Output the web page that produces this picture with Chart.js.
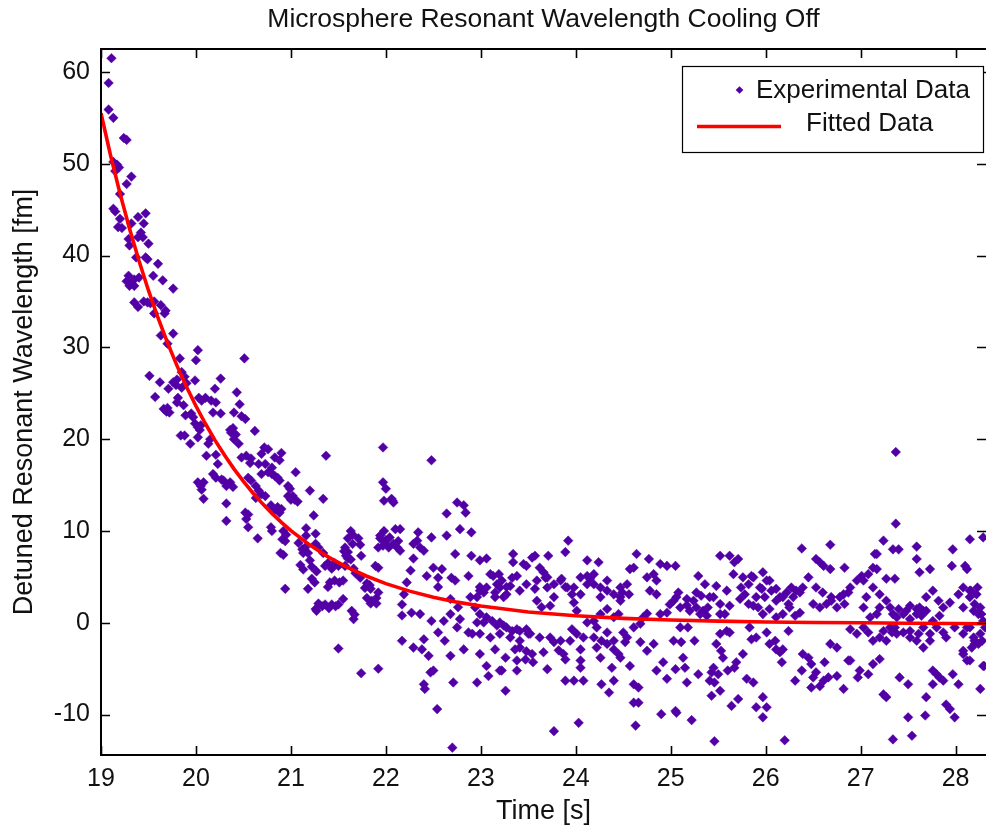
<!DOCTYPE html>
<html><head><meta charset="utf-8">
<script src="https://cdn.jsdelivr.net/npm/chart.js@4.4.0/dist/chart.umd.min.js"></script>
<style>html,body{margin:0;padding:0;background:#fff}#wrap{width:986px;height:830px;overflow:hidden}</style>
</head><body><div id="wrap"><canvas id="c" width="986" height="830"></canvas></div>
<script>
const chartTitle = 'Microsphere Resonant Wavelength Cooling Off';
const xTitle = 'Time [s]';
const yTitle = 'Detuned Resonant Wavelength [fm]';
const xTicks = [19,20,21,22,23,24,25,26,27,28];
const yTicks = [-10,0,10,20,30,40,50,60];
const seriesNames = ['Experimental Data','Fitted Data'];

// Fitted curve
const fitTime  = [19.0,19.1,19.2,19.3,19.4,19.5,19.6,19.7,19.8,19.9,20.0,20.1,20.2,20.3,20.4,20.5,20.6,20.7,20.8,20.9,21.0,21.2,21.4,21.6,21.8,22.0,22.25,22.5,22.75,23.0,23.5,24.0,24.5,25.0,25.5,26.0,26.5,27.0,27.5,28.0,28.33];
const fitValue = [55.5,50.95,46.78,42.95,39.43,36.2,33.23,30.51,28.01,25.72,23.61,21.68,19.9,18.27,16.77,15.4,14.14,12.98,11.92,10.94,10.04,8.46,7.13,6.01,5.07,4.27,3.45,2.79,2.25,1.82,1.18,0.76,0.48,0.3,0.18,0.09,0.03,0.0,-0.05,-0.08,-0.1];

const expEarly = [[19.11,61.5],[19.08,58.8],[19.08,55.9],[19.13,55.0],[19.24,52.8],[19.27,52.6],[19.13,50.2],[19.17,49.9],[19.15,49.2],[19.19,49.6],[19.32,48.6],[19.27,47.8],[19.2,46.7],[19.13,45.1],[19.15,44.8],[19.2,44.0],[19.22,43.0],[19.18,43.1],[19.32,43.5],[19.39,44.2],[19.42,42.5],[19.45,43.5],[19.47,44.6],[19.39,42.0],[19.44,42.0],[19.3,41.1],[19.29,41.8],[19.5,41.3],[19.37,39.8],[19.47,39.8],[19.49,39.6],[19.6,39.1],[19.29,37.8],[19.27,37.2],[19.32,36.9],[19.35,37.4],[19.3,36.7],[19.4,37.6],[19.35,36.7],[19.55,37.8],[19.65,37.3],[19.76,36.4],[19.35,34.9],[19.45,35.0],[19.56,35.0],[19.49,34.9],[19.39,34.4],[19.52,34.8],[19.56,33.7],[19.67,33.7],[19.63,34.6],[19.68,34.0],[19.63,31.3],[19.76,31.5],[19.7,30.4],[20.02,29.7],[20.0,28.6],[19.83,28.8],[19.51,26.9],[19.62,26.2],[19.76,26.2],[19.8,26.5],[19.85,27.3],[19.88,26.8],[19.9,26.1],[19.85,25.6],[19.79,25.9],[19.71,25.5],[19.57,24.6],[19.81,24.5],[19.8,24.0],[19.99,26.4],[19.66,23.3],[19.69,23.0],[19.72,22.9],[19.7,23.4],[19.87,23.7],[19.89,22.6],[19.95,22.8],[19.97,22.4],[19.99,21.7],[20.02,21.3],[20.05,21.5],[19.84,20.4],[19.88,20.4],[19.94,19.5],[20.02,20.2],[20.04,21.0]];

const expMid = [[20.51,28.8],[20.26,26.6],[20.2,25.5],[20.03,24.5],[20.1,24.5],[20.06,24.2],[20.16,24.2],[20.21,24.0],[20.18,22.9],[20.26,22.8],[20.43,25.1],[20.46,23.8],[20.4,22.9],[20.48,22.5],[20.52,22.2],[20.62,20.9],[20.39,21.2],[20.37,20.7],[20.42,20.5],[20.4,20.0],[20.36,21.0],[20.45,19.5],[20.13,19.5],[20.15,20.0],[20.11,18.2],[20.21,18.3],[20.23,17.3],[20.18,16.2],[20.21,15.8],[20.29,15.5],[20.36,15.3],[20.32,14.9],[20.39,14.8],[20.27,15.6],[20.02,15.3],[20.05,14.9],[20.08,15.3],[20.06,14.5],[20.08,13.5],[20.32,13.0],[20.32,11.1],[20.53,11.3],[20.55,10.4],[20.48,18.0],[20.53,18.2],[20.57,17.4],[20.58,17.9],[20.72,19.1],[20.76,18.9],[20.69,18.4],[20.9,18.5],[20.66,17.3],[20.73,17.3],[20.76,16.4],[20.69,16.2],[20.8,16.2],[20.83,16.0],[20.86,15.8],[20.88,15.5],[20.8,16.9],[20.83,18.0],[20.88,17.7],[21.05,16.4],[20.63,14.9],[20.66,14.4],[20.69,14.0],[20.73,13.8],[20.63,13.6],[20.55,15.8],[20.58,15.5],[20.97,14.9],[20.99,14.6],[21.02,13.8],[21.04,13.4],[21.0,13.4],[21.07,13.2],[20.97,13.8],[21.2,14.4],[21.34,13.5],[21.37,18.2],[20.79,12.8],[20.83,12.3],[20.86,12.6],[20.88,12.0],[20.9,12.4],[21.24,11.7],[20.52,12.0],[20.55,11.8],[20.65,9.2],[20.79,10.4],[20.8,10.0],[20.92,10.0],[20.95,9.6],[20.94,8.9],[20.91,9.1],[20.89,7.6],[20.92,7.4],[21.16,10.3],[21.16,9.5],[21.08,8.7],[21.12,8.0],[21.15,8.2],[21.13,7.6],[21.18,7.6],[21.26,9.7],[21.26,8.6],[21.29,8.2],[21.34,7.6],[21.57,8.2],[21.6,7.7],[21.56,7.8],[21.63,10.0],[21.65,9.6],[21.6,9.2],[21.71,9.2],[21.73,8.5],[21.65,8.6],[21.74,7.3],[21.97,19.1],[21.97,15.3],[22.0,14.6],[21.98,13.3],[21.94,9.5],[21.99,8.7],[21.92,8.2],[21.1,6.3],[21.13,5.8],[21.22,6.1],[21.27,5.6],[21.2,6.8],[20.94,3.7],[21.18,3.7],[21.22,4.8],[21.25,4.4],[21.36,6.2],[21.39,6.5],[21.43,5.9],[21.46,6.5],[21.5,6.2],[21.41,4.4],[21.46,4.6],[21.51,4.4],[21.55,4.6],[21.39,3.9],[21.29,2.1],[21.33,1.8],[21.36,2.0],[21.4,1.6],[21.43,2.0],[21.47,1.8],[21.5,2.0],[21.26,1.5],[21.27,1.3],[21.55,2.6],[21.5,-2.8],[21.6,7.0],[21.63,6.9],[21.58,7.3],[21.57,6.2],[21.68,5.4],[21.66,5.9],[21.73,4.9],[21.8,4.3],[21.83,4.1],[21.64,1.3],[21.67,0.9],[21.66,0.4],[21.74,-5.5],[21.8,2.7],[21.85,2.4],[21.9,2.1],[21.84,2.1],[21.78,3.8],[21.84,3.7],[21.92,-5.0],[21.89,6.2],[21.92,6.0],[21.94,9.2],[21.97,8.4],[21.98,10.0],[21.92,3.3],[21.9,2.7]];

const expLate = [[22.48,17.7],[22.06,13.5],[22.08,13.1],[22.07,13.3],[22.0,9.0],[22.04,9.3],[22.08,8.6],[22.12,8.2],[22.15,10.2],[22.03,8.2],[22.13,8.9],[22.15,7.85],[22.1,10.2],[22.34,9.85],[22.33,8.95],[22.36,8.2],[22.4,7.85],[22.29,8.6],[22.48,9.3],[22.64,11.9],[22.75,13.1],[22.82,12.8],[22.84,12.0],[22.64,9.5],[22.78,10.2],[22.9,9.85],[22.73,7.5],[22.9,7.3],[22.29,7.0],[22.26,5.7],[22.22,4.4],[22.19,3.1],[22.17,2.0],[22.5,6.0],[22.59,5.85],[22.55,4.9],[22.43,5.1],[22.55,3.9],[22.69,4.9],[22.73,4.6],[22.87,5.1],[22.68,2.6],[22.27,1.1],[22.36,0.95],[22.17,0.8],[22.48,0.2],[22.61,0.2],[22.68,0.95],[22.76,1.7],[22.78,0.4],[22.75,-0.5],[22.89,2.8],[22.91,-1.2],[22.87,-1.05],[22.17,-1.96],[22.29,-2.7],[22.4,-1.8],[22.38,-2.9],[22.45,-3.6],[22.55,-1.05],[22.62,-1.96],[22.68,-3.6],[22.5,-5.2],[22.47,-5.4],[22.4,-6.7],[22.41,-7.2],[22.71,-6.5],[22.82,-2.9],[22.54,-9.4],[22.7,-13.6],[22.99,6.8],[23.06,7.0],[23.1,5.3],[23.13,5.1],[23.19,5.3],[23.17,4.2],[23.22,4.6],[22.99,3.9],[23.03,3.3],[22.96,2.8],[23.15,2.8],[23.24,2.8],[23.27,3.9],[23.31,4.0],[23.33,4.9],[23.34,7.5],[23.34,6.6],[23.38,5.1],[23.45,6.4],[23.48,6.2],[23.54,7.1],[23.57,7.3],[23.62,6.0],[23.66,5.5],[23.68,4.9],[23.71,7.3],[22.94,1.67],[22.99,0.95],[22.96,0.04],[23.03,0.04],[23.06,0.6],[23.12,0.2],[23.17,-0.3],[23.2,0.04],[23.24,-0.3],[23.27,-0.5],[23.33,-0.9],[23.38,-0.7],[23.41,-0.9],[23.48,-0.7],[23.5,-1.2],[22.99,-3.4],[23.06,-4.7],[23.15,-2.9],[23.22,-5.2],[23.26,-3.8],[23.36,-2.9],[23.38,-4.1],[23.38,-5.2],[23.41,-2.7],[23.48,-3.1],[23.54,-3.4],[23.55,-4.3],[23.47,-4.0],[23.66,-3.2],[23.7,-5.05],[22.96,-6.5],[23.08,-5.8],[23.26,-7.4],[23.2,-5.2],[23.57,3.7],[23.59,2.4],[23.64,1.7],[23.73,1.86],[23.7,4.95],[23.77,2.8],[23.85,4.8],[23.89,3.9],[23.92,8.95],[23.89,7.7],[23.96,3.1],[23.98,2.2],[24.01,1.3],[23.77,-2.1],[23.82,-3.0],[23.87,-3.4],[23.89,-4.0],[23.96,-0.7],[24.01,-1.2],[24.05,-2.9],[24.05,-4.1],[24.08,-1.6],[24.05,-4.9],[23.89,-6.3],[23.98,-6.3],[24.08,-6.3],[23.77,-11.8],[24.03,-10.9],[24.05,4.95],[24.12,5.1],[24.15,4.8],[24.19,5.3],[24.12,6.8],[24.24,6.6],[24.12,4.2],[24.26,2.8],[24.33,4.6],[24.19,0.2],[24.26,0.95],[24.33,1.5],[24.4,0.6],[24.45,0.95],[24.12,0.04],[24.22,-0.5],[24.33,-1.05],[24.4,-1.96],[24.47,3.85],[24.49,3.3],[24.47,2.4],[24.56,3.1],[24.19,-1.6],[24.27,-1.96],[24.22,-2.7],[24.33,-2.3],[24.4,-2.9],[24.45,-3.4],[24.5,-1.05],[24.52,-2.1],[24.54,-1.6],[24.61,-0.5],[24.68,-0.1],[24.71,0.6],[24.75,1.0],[24.26,-3.8],[24.38,-4.9],[24.27,-6.7],[24.35,-7.6],[24.4,-6.3],[24.47,-3.8],[24.57,-4.7],[24.61,-6.7],[24.66,-7.05],[24.64,7.5],[24.57,5.85],[24.61,6.0],[24.77,6.95],[24.82,5.3],[24.85,4.6],[24.85,3.1],[24.89,6.4],[24.96,6.2],[25.05,6.2],[24.75,4.95],[24.78,3.5],[24.89,0.95],[24.96,1.1],[24.99,2.0],[25.03,2.4],[24.61,-8.7],[24.66,-8.7],[24.63,-11.2],[24.75,-3.05],[24.68,-2.1],[24.82,-2.3],[24.85,-5.2],[24.92,-4.3],[24.96,-6.1],[25.05,-5.05],[25.05,-9.6],[24.9,-9.95],[25.03,-1.96],
[22.99,3.5],[23.06,3.85],[23.15,3.3],[23.2,3.85],[23.27,3.1],[23.41,3.5],[23.48,4.2],[23.59,4.6],[23.7,3.85],[23.77,4.2],[23.84,4.6],[23.91,3.85],[23.98,3.85],[24.05,3.1],[24.19,4.2],[24.26,3.85],[24.33,3.5],[24.4,3.1],[24.47,2.8],[24.54,4.2],[22.99,-1.2],[23.1,-1.6],[23.2,-1.2],[23.31,-1.6],[23.41,-1.96],[23.52,-1.2],[23.62,-1.6],[23.73,-1.6],[23.84,-1.96],[23.94,-1.96]];

const expTail = [[27.37,18.6],[27.37,10.8],[27.34,8.0],[27.4,8.0],[27.24,8.95],[27.17,7.5],[27.59,8.3],[27.59,6.95],[27.62,5.5],[27.73,5.85],[27.97,8.0],[27.96,6.2],[28.1,6.2],[28.12,5.85],[28.15,9.1],[28.29,9.3],[26.38,8.1],[26.68,8.5],[26.53,6.95],[26.57,6.6],[26.61,6.2],[26.68,5.85],[26.83,6.0],[25.52,7.3],[25.62,7.3],[25.71,6.95],[25.67,6.6],[26.45,4.95],[27.15,7.5],[27.13,6.0],[27.17,5.85],[27.27,4.8],[27.36,4.8],[25.29,5.1],[25.36,4.2],[25.48,4.0],[25.59,3.5],[25.66,5.3],[25.76,4.95],[25.85,5.1],[25.97,5.5],[26.01,4.6],[25.06,2.8],[25.17,2.6],[25.27,3.3],[25.32,2.95],[25.41,2.8],[25.1,1.67],[25.2,1.3],[25.27,1.67],[25.34,1.3],[25.38,0.77],[25.52,2.05],[25.62,1.86],[25.57,0.95],[25.73,2.6],[25.78,3.1],[25.82,2.05],[25.87,1.86],[25.9,2.8],[25.96,3.7],[26.04,4.6],[26.11,3.7],[26.15,2.8],[26.22,3.3],[26.27,3.85],[26.32,3.5],[26.39,3.85],[25.97,0.95],[26.04,1.5],[26.11,0.6],[26.18,0.95],[26.25,1.67],[26.31,0.77],[26.36,1.1],[26.5,2.05],[26.57,1.67],[26.64,2.05],[26.69,2.8],[26.75,1.67],[26.82,3.1],[26.89,3.85],[26.96,4.6],[27.01,5.1],[27.06,2.8],[27.03,1.67],[27.1,0.6],[27.17,0.95],[27.2,1.67],[27.31,1.67],[27.38,0.6],[27.48,1.3],[27.52,1.86],[27.59,0.95],[27.62,1.67],[27.66,1.3],[27.69,2.8],[27.76,3.5],[27.82,2.4],[27.87,1.67],[27.94,2.2],[28.03,3.1],[28.08,1.67],[28.15,3.5],[28.22,3.1],[28.27,0.95],[28.19,1.3],[25.1,-0.5],[25.18,-0.5],[25.11,-2.1],[25.25,-1.96],[25.13,-3.8],[25.15,-4.9],[25.17,-6.5],[25.06,-9.8],[25.22,-10.6],[25.29,-5.6],[25.43,-5.4],[25.45,-4.9],[25.5,-5.6],[25.41,-6.3],[25.46,-6.5],[25.43,-7.95],[25.52,-7.4],[25.46,-12.9],[25.52,-1.2],[25.48,-2.3],[25.53,-3.05],[25.59,-0.9],[25.62,-1.05],[25.55,-3.8],[25.6,-5.2],[25.67,-4.9],[25.69,-4.3],[25.76,-3.4],[25.8,-6.1],[25.87,-6.5],[25.64,-9.05],[25.71,-8.3],[25.9,-9.2],[25.97,-8.1],[26.01,-9.2],[25.97,-10.3],[26.2,-12.8],[25.83,-0.5],[25.85,-1.8],[25.9,-1.6],[26.01,-1.05],[26.04,-2.3],[26.1,-1.96],[26.11,-2.9],[26.15,-3.2],[26.18,-2.9],[26.24,-0.9],[26.17,-4.3],[26.31,-6.3],[26.38,-5.2],[26.39,-3.4],[26.45,-3.8],[26.48,-4.5],[26.5,-5.95],[26.53,-5.4],[26.48,-7.05],[26.57,-6.9],[26.62,-4.3],[26.61,-6.3],[26.66,-5.95],[26.68,-2.3],[26.75,-2.7],[26.75,-5.8],[26.82,-7.2],[26.87,-4.1],[26.89,-0.7],[26.96,-1.2],[27.03,-0.5],[27.08,-1.05],[27.13,-1.96],[27.2,-1.6],[27.24,-0.9],[27.27,-1.96],[27.33,-1.05],[27.36,-0.5],[27.45,-1.05],[27.52,-0.9],[27.61,-1.2],[27.66,-0.5],[27.73,-1.2],[27.8,-0.5],[27.87,-1.05],[27.9,-1.6],[27.99,-0.5],[28.08,-1.2],[28.15,-0.5],[28.2,-1.96],[28.26,-1.2],[28.31,-0.5],[26.89,-4.1],[26.97,-5.95],[26.99,-5.2],[27.08,-5.6],[27.13,-4.5],[27.2,-3.95],[27.24,-7.8],[27.27,-8.1],[27.34,-12.7],[27.41,-5.95],[27.5,-6.7],[27.5,-10.3],[27.54,-12.3],[27.68,-10.1],[27.69,-8.1],[27.76,-5.2],[27.8,-5.6],[27.76,-6.7],[27.83,-5.95],[27.9,-8.9],[27.94,-9.4],[27.87,-6.3],[27.97,-5.6],[27.99,-10.3],[28.03,-6.7],[28.08,-3.05],[28.12,-4.1],[28.17,-2.7],[28.2,-2.3],[28.26,-7.2],[28.29,-4.7],[28.16,3.5],[28.23,3.85],[28.26,1.67],[28.28,-1.96],[28.3,-4.7],
[25.08,3.3],[25.17,1.9],[25.24,2.4],[25.31,0.95],[25.39,1.67],[25.45,2.8],[25.52,0.95],[25.74,3.85],[25.82,4.2],[25.87,4.95],[25.94,3.85],[25.99,2.8],[25.92,1.67],[26.06,3.5],[26.11,2.4],[26.18,2.8],[26.24,2.05],[26.29,2.8],[26.36,3.3],[26.53,3.85],[26.6,3.3],[26.69,2.4],[26.78,2.8],[26.83,2.05],[26.87,3.3],[27.03,4.6],[27.08,5.3],[27.13,3.85],[27.2,3.1],[27.27,2.4],[27.34,0.95],[27.4,1.5],[27.45,0.95],[27.52,0.4],[27.59,1.5],[27.64,0.77],[27.69,1.3],[27.76,0.2],[27.83,0.77],[27.31,-0.5],[27.38,-1.2],[27.52,-1.6],[27.59,-1.96],[27.66,-2.7],[27.73,-1.96],[28.08,3.85],[28.15,2.8],[28.2,2.05],[28.24,0.95],[28.29,0.2],[28.12,-0.5],[28.19,-1.6],[28.24,-2.3],[28.08,-3.4],[28.15,-4.1]];

const FONT = 'Liberation Sans, Arial, sans-serif';
const TEXT = '#111';
const MARK = '#5200a6';

const expPoints = expEarly.concat(expMid, expLate, expTail).map(p => ({x: p[0], y: p[1]}));
const fitPoints = fitTime.map((t, i) => ({x: t, y: fitValue[i]}));

const framePlugin = {
  id: 'frame',
  afterDraw(chart) {
    const {ctx, chartArea: a, scales: {x, y}} = chart;
    ctx.save();
    ctx.strokeStyle = '#000';
    ctx.lineWidth = 2;
    ctx.beginPath();
    ctx.moveTo(a.left, a.top); ctx.lineTo(a.right + 3, a.top);
    ctx.moveTo(a.left, a.top - 1); ctx.lineTo(a.left, a.bottom + 1);
    ctx.moveTo(a.left, a.bottom); ctx.lineTo(a.right + 3, a.bottom);
    ctx.stroke();
    const L = 9;
    ctx.lineWidth = 1.6;
    ctx.beginPath();
    x.ticks.forEach(t => {
      const px = Math.round(x.getPixelForValue(t.value)) + 0.5;
      ctx.moveTo(px, a.bottom); ctx.lineTo(px, a.bottom - L);
      ctx.moveTo(px, a.top); ctx.lineTo(px, a.top + L);
    });
    y.ticks.forEach(t => {
      const py = Math.round(y.getPixelForValue(t.value)) + 0.5;
      ctx.moveTo(a.left, py); ctx.lineTo(a.left + L, py);
      ctx.moveTo(a.right, py); ctx.lineTo(a.right - L, py);
    });
    ctx.stroke();

    // legend box
    const bx = 682.5, by = 66.5, bw = 301, bh = 86;
    ctx.fillStyle = '#fff';
    ctx.fillRect(bx, by, bw, bh);
    ctx.lineWidth = 1.2;
    ctx.strokeStyle = '#000';
    ctx.strokeRect(bx, by, bw, bh);
    ctx.fillStyle = MARK;
    ctx.beginPath();
    const mx = 739.5, my = 90, mr = 3.8;
    ctx.moveTo(mx - mr, my); ctx.lineTo(mx, my - mr); ctx.lineTo(mx + mr, my); ctx.lineTo(mx, my + mr); ctx.closePath();
    ctx.fill();
    ctx.strokeStyle = '#ff0000';
    ctx.lineWidth = 3.5;
    ctx.beginPath();
    ctx.moveTo(697, 126.5); ctx.lineTo(781, 126.5);
    ctx.stroke();
    ctx.fillStyle = TEXT;
    ctx.font = '26px ' + FONT;
    ctx.textBaseline = 'middle';
    ctx.textAlign = 'left';
    ctx.fillText(seriesNames[0], 756, 91);
    ctx.fillText(seriesNames[1], 806, 124);
    ctx.restore();
  }
};

new Chart(document.getElementById('c'), {
  type: 'scatter',
  data: {
    datasets: [
      {
        label: seriesNames[1], data: fitPoints, showLine: true, pointRadius: 0,
        borderColor: '#ff0000', borderWidth: 3.6, tension: 0, order: 0
      },
      {
        label: seriesNames[0], data: expPoints, showLine: false,
        pointStyle: 'rectRot', pointRadius: 4.8, backgroundColor: MARK,
        borderColor: MARK, borderWidth: 0.5, order: 1
      }
    ]
  },
  options: {
    responsive: false, animation: false, devicePixelRatio: 1,
    layout: {padding: 0, autoPadding: false},
    plugins: {
      legend: {display: false}, tooltip: {enabled: false},
      title: {display: true, text: chartTitle, color: TEXT, fullSize: false,
        font: {family: FONT, size: 26.5, weight: 'normal'}, padding: {top: 4, bottom: 13.2}}
    },
    scales: {
      x: {
        type: 'linear', min: 19, max: 28.32,
        grid: {display: false, drawTicks: false}, border: {display: false},
        ticks: {color: TEXT, font: {family: FONT, size: 25}, padding: 9, maxRotation: 0, autoSkip: false},
        afterBuildTicks: s => { s.ticks = xTicks.map(v => ({value: v})); },
        afterFit: s => { s.height = 75; s.paddingLeft = 0; s.paddingRight = 0; },
        title: {display: true, text: xTitle, color: TEXT, font: {family: FONT, size: 27}, padding: {top: 0, bottom: 2}}
      },
      y: {
        type: 'linear', min: -14.4, max: 62.5,
        grid: {display: false, drawTicks: false}, border: {display: false},
        ticks: {color: TEXT, font: {family: FONT, size: 25}, padding: 11},
        afterBuildTicks: s => { s.ticks = yTicks.map(v => ({value: v})); },
        afterFit: s => { s.width = 101; s.paddingTop = 0; s.paddingBottom = 0; },
        title: {display: true, text: yTitle, color: TEXT, font: {family: FONT, size: 27}, padding: {top: 8.8, bottom: 0}}
      }
    }
  },
  plugins: [framePlugin]
});
</script>
</body></html>
